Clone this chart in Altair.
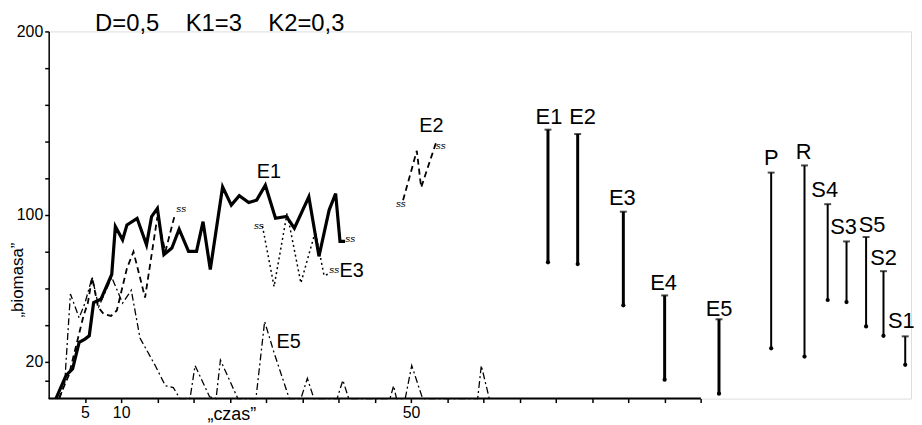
import altair as alt
import pandas as pd

FONT = "Liberation Sans"

# ---- data ----
title_text = "D=0,5\u00a0\u00a0\u00a0\u00a0K1=3\u00a0\u00a0\u00a0\u00a0K2=0,3"

# E1 (solid, thick)
e1_t = [1.0, 2.4, 3.3, 4.2, 5.0, 5.6, 6.2, 7.2, 8.7, 9.2, 10.2, 10.8, 12.2, 13.5, 14.2, 15.0,
        15.9, 17.0, 18.0, 19.3, 20.4, 21.3, 22.3, 24.0, 25.2, 26.3, 27.6, 28.7, 29.9, 31.3,
        32.8, 33.9, 35.9, 37.3, 38.7, 39.6, 40.2, 40.9]
e1_v = [0, 12.6, 16.2, 30.6, 32.4, 34.2, 52.3, 54.1, 67.6, 93.7, 86.5, 94.6, 98.2, 83.8, 99.1,
        103.6, 78.4, 82, 92.3, 80.2, 80.2, 96.4, 70.3, 115.3, 105.4, 110.5, 106.8, 108.1,
        116.2, 98.2, 99.2, 92.8, 109.9, 77.5, 102.7, 111.7, 85.6, 85.6]

# E2 (dashed) – two fragments
e2a_t = [1.4, 2.8, 3.8, 4.8, 5.4, 6.0, 6.8, 7.6, 8.6, 9.4, 10.8, 11.7, 13.3, 15.0, 16.1, 17.4]
e2a_v = [0, 13, 29, 45, 52, 66, 50, 46, 45, 48, 71, 80, 55, 99, 80, 100]
e2b_t = [48.9, 50.8, 51.4, 53.5]
e2b_v = [108, 135, 115, 140]

# E3 (dotted)
e3_t = [29.5, 31.1, 32.9, 34.8, 36.8, 38.0, 38.7]
e3_v = [94, 61, 101, 63, 91, 67, 68]

# E5 (dash-dot)
e5_t = [1.5, 2.2, 3.0, 4.2, 5.0, 6.0, 6.9, 8.7, 10.2, 11.4, 12.6, 14.7, 16.1, 17.2, 18.1,
        19.5, 20.2, 22.2, 23.1, 23.7, 26.1, 28.6, 29.8, 31.1, 33.2, 34.8, 35.7, 36.6, 39.8,
        40.6, 41.4, 47.1, 47.6, 48.0, 49.2, 50.1, 51.6, 59.2, 59.7, 60.8]
e5_v = [0, 8, 57, 44, 52, 66, 50, 66, 52, 59, 33, 18, 7, 6, 0,
        0, 18, 1, 0, 21, 0, 0, 42, 25, 0, 0, 11, 0, 0,
        10, 0, 0, 7, 0, 0, 18, 0, 0, 18, 0]

# range bars on the right
bar_names = ["E1", "E2", "E3", "E4", "E5", "P", "R", "S4", "S3", "S5", "S2", "S1"]
bar_pos = [68.9, 73.0, 79.3, 85.0, 92.5, 99.7, 104.3, 107.5, 110.1, 112.8, 115.2, 118.2]
bar_high = [146.5, 144.1, 101.8, 56.2, 43.2, 123.1, 127.0, 105.9, 85.6, 88.0, 69.4, 33.9]
bar_low = [74.2, 73.3, 50.8, 10.3, 2.7, 27.4, 22.9, 53.7, 52.6, 39.3, 34.2, 18.4]

# in-plot series labels (annotation anchors, data units)
lab_text = ["E1", "E3", "E5", "E2"]
lab_t = [30.4, 41.8, 33.1, 52.8]
lab_v = [123.2, 69.7, 30.6, 148.6]

# "ss" break marks at fragment ends (annotation anchors, data units)
brk_t = [18.3, 41.6, 29.0, 39.4, 48.6, 54.1]
brk_v = [103, 87, 94, 70, 106, 137.5]

# heading anchor (data units)
head_t, head_v = 6.4, 200

# axes
y_ticks = [10, 20, 40, 60, 80, 100, 120, 140, 160, 180, 200]
y_labels = [20, 100, 200]
x_ticks = list(range(5, 95, 5))
x_labels = [5, 10, 50]
x_axis_extent = [0, 90]

# ---- layout / style (not data) ----
W, H = 869, 370
XDOM, YDOM = [0, 119], [0, 200]
px_t = W / (XDOM[1] - XDOM[0])
px_v = H / (YDOM[1] - YDOM[0])
bar_width = [3, 3, 3, 3, 3, 2, 2, 2, 2, 2, 2, 2]
lab_dx = [1, 5, -1, -1, 0, 0, -1, -3, -3, 6, 0, -4]
lab_dy = [-13, -17, -14, -12, -10.5, -15, -13.5, -14, -14, -12, -13, -15]

xs = alt.Scale(domain=XDOM, nice=False, zero=False)
ys = alt.Scale(domain=YDOM, nice=False, zero=False)

def lab_expr(vals):
    return " || ".join(f"datum.value == {v}" for v in vals)

xaxis = alt.Axis(values=x_ticks, labelExpr=f"({lab_expr(x_labels)}) ? datum.label : ''",
                 domain=False, grid=False, tickSize=4, tickWidth=1.5, tickColor="black",
                 labelFont=FONT, labelFontSize=16, labelColor="black", labelPadding=2,
                 labelFlush=False, labelOverlap=False,
                 title="\u201eczas\u201d", titleFont=FONT, titleFontSize=18,
                 titleFontWeight="normal", titleColor="black", titleX=184, titleY=21,
                 titleAlign="center", titleBaseline="alphabetic")
yaxis = alt.Axis(values=y_ticks, labelExpr=f"({lab_expr(y_labels)}) ? datum.label : ''",
                 domain=True, domainColor="black", domainWidth=1.5, grid=False,
                 tickSize=4, tickWidth=1.5, tickColor="black",
                 labelFont=FONT, labelFontSize=16, labelColor="black", labelPadding=2,
                 labelFlush=False, labelOverlap=False,
                 title="\u201ebiomasa\u201d", titleFont=FONT, titleFontSize=17,
                 titleFontWeight="normal", titleColor="black", titleX=-31, titleY=250,
                 titleAngle=270, titleAlign="center", titleBaseline="middle")

def X(f="t"):
    return alt.X(f"{f}:Q", scale=xs, axis=xaxis)

def Y(f="v"):
    return alt.Y(f"{f}:Q", scale=ys, axis=yaxis)

# ---- tables ----
df_e1 = pd.DataFrame({"t": e1_t, "v": e1_v})
df_e2 = pd.concat([pd.DataFrame({"t": e2a_t, "v": e2a_v, "seg": "a"}),
                   pd.DataFrame({"t": e2b_t, "v": e2b_v, "seg": "b"})])
df_e3 = pd.DataFrame({"t": e3_t, "v": e3_v})
df_e5 = pd.DataFrame({"t": e5_t, "v": e5_v})
df_bar = pd.DataFrame({"name": bar_names, "t": bar_pos, "hi": bar_high, "lo": bar_low,
                       "w": bar_width})
df_bar["lt"] = df_bar["t"] + pd.Series(lab_dx) / px_t
df_bar["lv"] = df_bar["hi"] - pd.Series(lab_dy) / px_v
df_lab = pd.DataFrame({"text": lab_text, "t": lab_t, "v": lab_v})
df_brk = pd.DataFrame({"t": brk_t, "v": brk_v, "s": ["ss"] * len(brk_t)})
df_axis = pd.DataFrame({"t": [x_axis_extent[0]], "t2": [x_axis_extent[1]], "v": [0]})
df_head = pd.DataFrame({"t": [head_t], "v": [head_v], "text": [title_text]})

axis_line = alt.Chart(df_axis).mark_rule(color="black", strokeWidth=2).encode(
    x=X("t"), x2="t2:Q", y=Y("v"))

line_e5 = alt.Chart(df_e5).mark_line(color="black", strokeWidth=1.3,
                                     strokeDash=[7, 3, 2, 3]).encode(x=X(), y=Y(), order="t:Q")
line_e3 = alt.Chart(df_e3).mark_line(color="black", strokeWidth=1.5,
                                     strokeDash=[2, 3]).encode(x=X(), y=Y(), order="t:Q")
line_e2 = alt.Chart(df_e2).mark_line(color="black", strokeWidth=1.8,
                                     strokeDash=[6, 4]).encode(x=X(), y=Y(), detail="seg:N",
                                                               order="t:Q")
line_e1 = alt.Chart(df_e1).mark_line(color="black", strokeWidth=3.2,
                                     strokeJoin="miter").encode(x=X(), y=Y(), order="t:Q")

bars = alt.Chart(df_bar).mark_rule(color="black").encode(
    x=X("t"), y=Y("lo"), y2="hi:Q",
    strokeWidth=alt.StrokeWidth("w:Q", scale=None, legend=None))
cap_hi = alt.Chart(df_bar).mark_tick(color="black", orient="horizontal", size=7,
                                     thickness=2).encode(x=X("t"), y=Y("hi"))
cap_lo = alt.Chart(df_bar).mark_point(color="black", filled=True, size=18,
                                      opacity=1).encode(x=X("t"), y=Y("lo"))
bar_labels = alt.Chart(df_bar).mark_text(font=FONT, fontSize=22, color="black",
                                         baseline="middle", align="center").encode(
    x=X("lt"), y=Y("lv"), text="name:N")
series_labels = alt.Chart(df_lab).mark_text(font=FONT, fontSize=20, color="black",
                                            baseline="middle", align="center").encode(
    x=X("t"), y=Y("v"), text="text:N")
breaks = alt.Chart(df_brk).mark_text(font=FONT, fontSize=10, fontStyle="italic",
                                     color="black", baseline="middle",
                                     align="center").encode(x=X("t"), y=Y("v"), text="s:N")
heading = alt.Chart(df_head).mark_text(font=FONT, fontSize=24, color="black",
                                       baseline="alphabetic", align="left").encode(
    x=X("t"), y=Y("v"), text="text:N")

chart = alt.layer(axis_line, line_e5, line_e3, line_e2, line_e1, bars, cap_hi, cap_lo,
                  bar_labels, series_labels, breaks, heading).properties(
    width=W, height=H,
    autosize=alt.AutoSizeParams(type="none"),
    padding={"left": 41, "top": 22, "right": 3, "bottom": 24},
).configure_view(stroke=None).configure(background="white")

chart.save("out.html", embed_options={"renderer": "svg", "actions": False})
